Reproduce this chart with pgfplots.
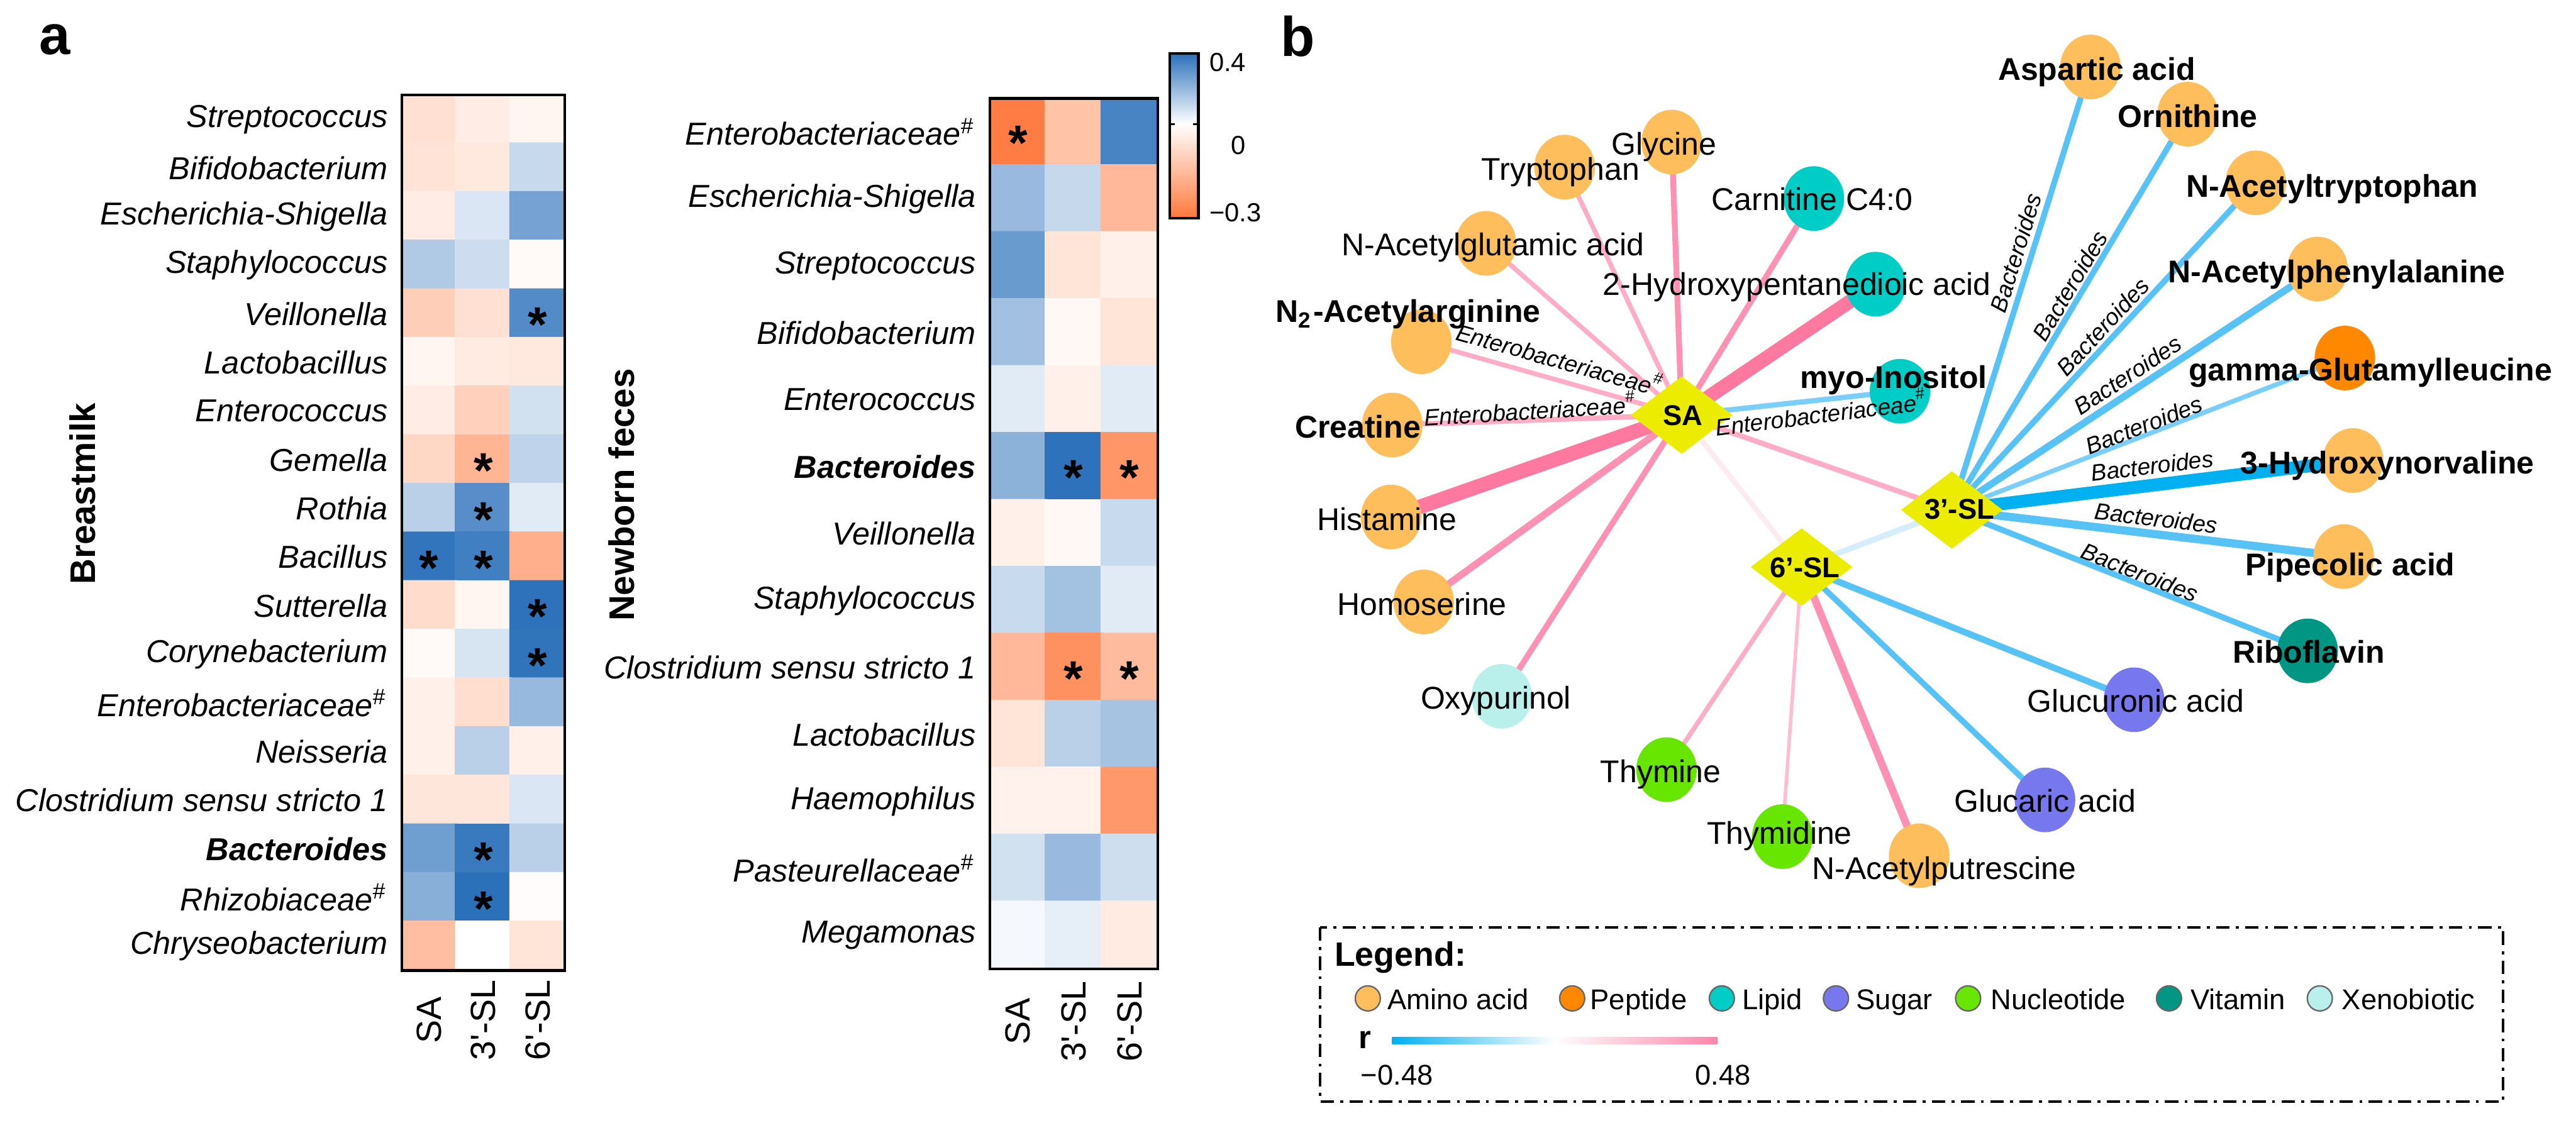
\documentclass[border=0pt]{standalone}
\usepackage{fontspec}
\setmainfont{Liberation Sans}
\usepackage{pgfplots}
\pgfplotsset{compat=1.18}
\usepackage{pgfplotstable}

\definecolor{amino}{RGB}{255,190,92}
\definecolor{peptide}{RGB}{255,136,0}
\definecolor{lipid}{RGB}{0,205,198}
\definecolor{sugar}{RGB}{120,120,238}
\definecolor{nucl}{RGB}{102,230,0}
\definecolor{vitamin}{RGB}{0,150,132}
\definecolor{xeno}{RGB}{186,240,236}
\definecolor{hmo}{RGB}{236,236,0}
\definecolor{pk1}{RGB}{255,120,160}
\definecolor{pk2}{RGB}{255,145,180}
\definecolor{pk3}{RGB}{255,172,198}
\definecolor{pk4}{RGB}{252,236,242}
\definecolor{bl1}{RGB}{0,176,240}
\definecolor{bl2}{RGB}{86,194,246}
\definecolor{bl3}{RGB}{122,206,250}
\definecolor{bl4}{RGB}{214,238,252}

\pgfplotsset{colormap={hm}{rgb255(0)=(255,120,60) rgb255(320)=(255,255,255) rgb255(777)=(42,112,186)}}

\tikzset{
  lbl/.style={font=\fontsize{5.4}{5.4}\selectfont, inner sep=0pt, text height=3.87pt, text depth=0pt, anchor=center},
  blbl/.style={lbl, font=\fontsize{5.4}{5.4}\selectfont\bfseries},
  elbl/.style={font=\fontsize{4}{4}\selectfont\itshape, inner sep=0pt, text height=2.9pt, text depth=0pt, anchor=center},
  hlbl/.style={font=\fontsize{4.9}{4.9}\selectfont\bfseries, inner sep=0pt, text height=3.5pt, text depth=0pt, anchor=center},
  leg/.style={font=\fontsize{4.9}{4.9}\selectfont, inner sep=0pt, text height=3.5pt, text depth=0pt, anchor=west},
}
\pgfplotsset{
  netax/.style={at={(0pt,0pt)}, anchor=south west, scale only axis, width=442.4pt, height=193.7pt,
    xmin=0, xmax=4424, ymin=0, ymax=1937, y dir=reverse, hide axis, clip=false},
  heat/.style={scale only axis, anchor=south west, xmin=-0.5, xmax=2.5, enlargelimits=false,
    y dir=reverse, axis on top, axis line style={line width=0.45pt}, major tick length=0pt,
    xtick={0,1,2}, xticklabels={SA,3\textquotesingle-SL,6\textquotesingle-SL}, ytick={0,...,17},
    colormap name=hm, point meta min=-0.32, point meta max=0.457,
    yticklabel style={font=\fontsize{5.45}{6}\selectfont\itshape, anchor=east, inner sep=0pt, xshift=-2.2pt}},
  star/.style={draw=none, mark=none, nodes near coords={*},
    nodes near coords style={font=\fontsize{8.5}{8.5}\selectfont\bfseries, anchor=center, inner sep=0pt, yshift=-1.9pt}},
  metab/.style={only marks, mark=*, mark size=5.0pt, color=#1, mark options={yscale=1.07}},
  lnode/.style={only marks, mark=*, mark size=2.15pt, mark options={fill=#1, draw=black!60, line width=0.25pt}},
}

\pgfplotstableread{
x y r
0 0 -0.073
1 0 -0.045
2 0 -0.021
0 1 -0.067
1 1 -0.054
2 1 0.121
0 2 -0.045
1 2 0.079
2 2 0.296
0 3 0.170
1 3 0.108
2 3 -0.012
0 4 -0.116
1 4 -0.073
2 4 0.372
0 5 -0.021
1 5 -0.047
2 5 -0.054
0 6 -0.045
1 6 -0.111
2 6 0.096
0 7 -0.095
1 7 -0.177
2 7 0.138
0 8 0.149
1 8 0.360
2 8 0.064
0 9 0.440
1 9 0.410
2 9 -0.190
0 10 -0.083
1 10 -0.021
2 10 0.450
0 11 -0.012
1 11 0.085
2 11 0.445
0 12 -0.035
1 12 -0.078
2 12 0.223
0 13 -0.035
1 13 0.150
2 13 -0.035
0 14 -0.059
1 14 -0.059
2 14 0.079
0 15 0.308
1 15 0.425
2 15 0.149
0 16 0.255
1 16 0.455
2 16 -0.006
0 17 -0.154
1 17 0.000
2 17 -0.064
}\milk

\pgfplotstableread{
x y r
0 0 -0.307
1 0 -0.142
2 0 0.393
0 1 0.219
1 1 0.125
2 1 -0.166
0 2 0.320
1 2 -0.064
2 2 -0.035
0 3 0.200
1 3 -0.016
2 3 -0.064
0 4 0.064
1 4 -0.035
2 4 0.064
0 5 0.245
1 5 0.450
2 5 -0.248
0 6 -0.035
1 6 -0.016
2 6 0.117
0 7 0.117
1 7 0.198
2 7 0.064
0 8 -0.166
1 8 -0.260
2 8 -0.160
0 9 -0.064
1 9 0.150
2 9 0.191
0 10 -0.031
1 10 -0.031
2 10 -0.245
0 11 0.096
1 11 0.219
2 11 0.106
0 12 0.021
1 12 0.053
2 12 -0.047
}\feces

\begin{document}
\begin{tikzpicture}

% ---------- panel b network: edges and nodes ----------
\begin{axis}[netax]
% edges from SA
\addplot[pk2, line width=1.0pt] coordinates {(2888,713) (2871,244)};
\addplot[pk3, line width=0.8pt] coordinates {(2888,713) (2687,287)};
\addplot[pk3, line width=0.8pt] coordinates {(2888,713) (2552,418)};
\addplot[pk2, line width=1.0pt] coordinates {(2888,713) (3115,341)};
\addplot[pk1, line width=2.4pt] coordinates {(2888,713) (3221,488)};
\addplot[bl3, line width=0.9pt] coordinates {(2888,713) (3263,672)};
\addplot[pk3, line width=0.8pt] coordinates {(2888,713) (2441,587)};
\addplot[pk3, line width=0.9pt] coordinates {(2888,713) (2391,730)};
\addplot[pk1, line width=2.5pt] coordinates {(2888,713) (2389,888)};
\addplot[pk2, line width=1.2pt] coordinates {(2888,713) (2445,1034)};
\addplot[pk2, line width=1.0pt] coordinates {(2888,713) (2579,1196)};
\addplot[pk3, line width=0.9pt] coordinates {(2888,713) (3352,876)};
\addplot[pk4, line width=0.9pt] coordinates {(2888,713) (3094,974)};
% edges from 3'-SL
\addplot[bl2, line width=1.0pt] coordinates {(3352,876) (3590,115)};
\addplot[bl2, line width=1.0pt] coordinates {(3352,876) (3757,196)};
\addplot[bl2, line width=1.0pt] coordinates {(3352,876) (3874,314)};
\addplot[bl2, line width=1.2pt] coordinates {(3352,876) (3980,462)};
\addplot[bl3, line width=0.8pt] coordinates {(3352,876) (4027,615)};
\addplot[bl1, line width=2.2pt] coordinates {(3352,876) (4041,791)};
\addplot[bl2, line width=1.4pt] coordinates {(3352,876) (4025,956)};
\addplot[bl2, line width=1.0pt] coordinates {(3352,876) (3963,1118)};
\addplot[bl4, line width=1.0pt] coordinates {(3352,876) (3094,974)};
% edges from 6'-SL
\addplot[pk3, line width=0.8pt] coordinates {(3094,974) (2862,1322)};
\addplot[pk3!80!white, line width=0.6pt] coordinates {(3094,974) (3061,1437)};
\addplot[pk2, line width=1.3pt] coordinates {(3094,974) (3296,1470)};
\addplot[bl2, line width=1.0pt] coordinates {(3094,974) (3512,1374)};
\addplot[bl2, line width=1.1pt] coordinates {(3094,974) (3665,1202)};

% metabolite nodes
\addplot[metab=amino] coordinates {(3590,115) (3757,196) (3874,314) (3980,462) (4041,791) (4025,956)
  (3296,1470) (2445,1034) (2389,888) (2391,730) (2441,587) (2552,418) (2687,287) (2871,244)};
\addplot[metab=peptide] coordinates {(4027,615)};
\addplot[metab=lipid] coordinates {(3115,341) (3221,488) (3263,672)};
\addplot[metab=sugar] coordinates {(3665,1202) (3512,1374)};
\addplot[metab=nucl] coordinates {(2862,1322) (3061,1437)};
\addplot[metab=vitamin] coordinates {(3963,1118)};
\addplot[metab=xeno] coordinates {(2579,1196)};
% HMO nodes
\addplot[only marks, mark=diamond*, mark size=6.4pt, color=hmo, mark options={xscale=1.75}]
  coordinates {(2888,713) (3352,876) (3094,974)};

% legend markers of panel b
\addplot[lnode=amino] coordinates {(2349,1715)};
\addplot[lnode=peptide] coordinates {(2700,1715)};
\addplot[lnode=lipid] coordinates {(2957,1715)};
\addplot[lnode=sugar] coordinates {(3153,1715)};
\addplot[lnode=nucl] coordinates {(3380,1715)};
\addplot[lnode=vitamin] coordinates {(3725,1715)};
\addplot[lnode=xeno] coordinates {(3984,1715)};
\end{axis}

% ---------- panel b text (drawn above nodes) and free text ----------
\begin{axis}[netax]
\node[hlbl] at (axis cs:2890,713) {SA};
\node[hlbl] at (axis cs:3365,874) {3’-SL};
\node[hlbl] at (axis cs:3100,974) {6’-SL};
\node[blbl] at (axis cs:3601,118) {Aspartic acid};
\node[blbl] at (axis cs:3757,199) {Ornithine};
\node[blbl] at (axis cs:4005,319) {N-Acetyltryptophan};
\node[blbl] at (axis cs:4013,466) {N-Acetylphenylalanine};
\node[blbl] at (axis cs:4071,635) {gamma-Glutamylleucine};
\node[blbl] at (axis cs:4100,794) {3-Hydroxynorvaline};
\node[blbl] at (axis cs:4036,969) {Pipecolic acid};
\node[blbl] at (axis cs:3965,1120) {Riboflavin};
\node[lbl] at (axis cs:3668,1204) {Glucuronic acid};
\node[lbl] at (axis cs:3512,1376) {Glucaric acid};
\node[lbl] at (axis cs:3339,1491) {N-Acetylputrescine};
\node[lbl] at (axis cs:3056,1431) {Thymidine};
\node[lbl] at (axis cs:2852,1325) {Thymine};
\node[lbl] at (axis cs:2569,1198) {Oxypurinol};
\node[lbl] at (axis cs:2442,1037) {Homoserine};
\node[lbl] at (axis cs:2382,892) {Histamine};
\node[blbl] at (axis cs:2332,733) {Creatine};
\node[blbl] at (axis cs:2418,534) {N\textsubscript{2}-Acetylarginine};
\node[lbl] at (axis cs:2564,420) {N-Acetylglutamic acid};
\node[lbl] at (axis cs:2680,290) {Tryptophan};
\node[lbl] at (axis cs:2858,247) {Glycine};
\node[lbl] at (axis cs:3112,342) {Carnitine C4:0};
\node[lbl] at (axis cs:3086,488) {2-Hydroxypentanedioic acid};
\node[blbl] at (axis cs:3252,648) {myo-Inositol};

% edge labels
\node[elbl, rotate=-15.7] at (axis cs:2679,619) {Enterobacteriaceae\textsuperscript{\#}};
\node[elbl, rotate=3.5] at (axis cs:2629,706) {Enterobacteriaceae\textsuperscript{\#}};
\node[elbl, rotate=7] at (axis cs:3129,712) {Enterobacteriaceae\textsuperscript{\#}};
\node[elbl, rotate=72.6] at (axis cs:3462,434) {Bacteroides};
\node[elbl, rotate=59.2] at (axis cs:3555,491) {Bacteroides};
\node[elbl, rotate=47.1] at (axis cs:3611,561) {Bacteroides};
\node[elbl, rotate=33.4] at (axis cs:3654,644) {Bacteroides};
\node[elbl, rotate=21.1] at (axis cs:3682,730) {Bacteroides};
\node[elbl, rotate=7.0] at (axis cs:3696,800) {Bacteroides};
\node[elbl, rotate=-6.8] at (axis cs:3703,890) {Bacteroides};
\node[elbl, rotate=-21.6] at (axis cs:3675,983) {Bacteroides};

% legend of panel b
\draw[line width=0.45pt, dash pattern=on 2.3pt off 1.1pt on 0.5pt off 1.1pt]
  (axis cs:2267,1593) rectangle (axis cs:4299,1892);
\node[font=\fontsize{5.8}{5.8}\selectfont\bfseries, inner sep=0pt, anchor=west, text height=4.2pt, text depth=0pt]
  at (axis cs:2290,1639) {Legend:};
\node[leg] at (axis cs:2381,1717) {Amino acid};
\node[leg] at (axis cs:2729,1717) {Peptide};
\node[leg] at (axis cs:2990,1717) {Lipid};
\node[leg] at (axis cs:3186,1717) {Sugar};
\node[leg] at (axis cs:3417,1717) {Nucleotide};
\node[leg] at (axis cs:3760,1717) {Vitamin};
\node[leg] at (axis cs:4020,1717) {Xenobiotic};
\node[font=\fontsize{5.5}{5.5}\selectfont\bfseries, inner sep=0pt] at (axis cs:2344,1786) {r};
\shade[left color=bl1, right color=pk1!90!white, middle color=white]
  (axis cs:2391,1782) rectangle (axis cs:2949,1793);
\node[leg] at (axis cs:2335,1846) {−0.48};
\node[leg] at (axis cs:2909,1846) {0.48};

% panel letters and heatmap titles
\node[font=\fontsize{9.6}{9.6}\selectfont\bfseries, inner sep=0pt, anchor=base west] at (axis cs:66,93) {a};
\node[font=\fontsize{9.6}{9.6}\selectfont\bfseries, inner sep=0pt, anchor=base west] at (axis cs:2198,97) {b};
\node[font=\fontsize{6.1}{6.1}\selectfont\bfseries, inner sep=0pt, rotate=90] at (axis cs:142,848) {Breastmilk};
\node[font=\fontsize{6.1}{6.1}\selectfont\bfseries, inner sep=0pt, rotate=90] at (axis cs:1067,850) {Newborn feces};
\end{axis}

% ---------- heatmap: breastmilk ----------
\begin{axis}[heat, at={(69pt,27pt)}, width=28pt, height=150.4pt, ymin=-0.5, ymax=17.5,
  yticklabels={Streptococcus, Bifidobacterium, Escherichia-Shigella, Staphylococcus, Veillonella,
    Lactobacillus, Enterococcus, Gemella, Rothia, Bacillus, Sutterella, Corynebacterium,
    Enterobacteriaceae\textsuperscript{\#}, Neisseria, Clostridium sensu stricto 1,
    \textbf{Bacteroides}, Rhizobiaceae\textsuperscript{\#}, Chryseobacterium},
  xticklabel style={font=\fontsize{6}{6}\selectfont, inner sep=0pt, yshift=-8.5pt, rotate=90, anchor=center}]
\addplot[matrix plot*, mesh/cols=3, point meta=explicit] table[x=x, y=y, meta=r] {\milk};
\addplot[star] coordinates {(2,4) (1,7) (1,8) (0,9) (1,9) (2,10) (2,11) (1,15) (1,16)};
\end{axis}

% ---------- heatmap: newborn feces ----------
\begin{axis}[heat, at={(170pt,27.3pt)}, width=28.8pt, height=149.5pt, ymin=-0.5, ymax=12.5, ytick={0,...,12},
  yticklabels={Enterobacteriaceae\textsuperscript{\#}, Escherichia-Shigella, Streptococcus,
    Bifidobacterium, Enterococcus, \textbf{Bacteroides}, Veillonella, Staphylococcus,
    Clostridium sensu stricto 1, Lactobacillus, Haemophilus, Pasteurellaceae\textsuperscript{\#}, Megamonas},
  xticklabel style={font=\fontsize{6}{6}\selectfont, inner sep=0pt, yshift=-9.1pt, rotate=90, anchor=center}]
\addplot[matrix plot*, mesh/cols=3, point meta=explicit] table[x=x, y=y, meta=r] {\feces};
\addplot[star] coordinates {(0,0) (1,5) (2,5) (1,8) (2,8)};
\end{axis}

% ---------- colour bar ----------
\begin{axis}[at={(200.9pt,156.2pt)}, anchor=south west, scale only axis, width=4.9pt, height=28.3pt,
  xmin=0, xmax=1, ymin=0, ymax=283, enlargelimits=false, axis on top, xtick=\empty,
  ytick={10,125,268}, yticklabels={−0.3,\hspace{3.7pt}0,0.4}, yticklabel pos=right,
  major tick length=0pt, axis line style={line width=0.45pt},
  colormap name=hm, point meta min=-0.32, point meta max=0.457,
  yticklabel style={font=\fontsize{4.5}{4.5}\selectfont, anchor=west, inner sep=0pt, xshift=1.7pt}]
\addplot[patch, shader=interp, point meta=explicit] coordinates {
  (0,0) [-0.32] (1,0) [-0.32] (1,162) [0]
  (0,0) [-0.32] (1,162) [0] (0,162) [0]
  (0,162) [0] (1,162) [0] (1,283) [0.457]
  (0,162) [0] (1,283) [0.457] (0,283) [0.457]
};
\draw[line width=0.35pt] (axis cs:0,162) -- ++(0.9pt,0);
\draw[line width=0.35pt] (axis cs:1,162) -- ++(-0.9pt,0);
\end{axis}

\pgfresetboundingbox
\path (0,0) rectangle (442.4pt,193.7pt);
\end{tikzpicture}
\end{document}
